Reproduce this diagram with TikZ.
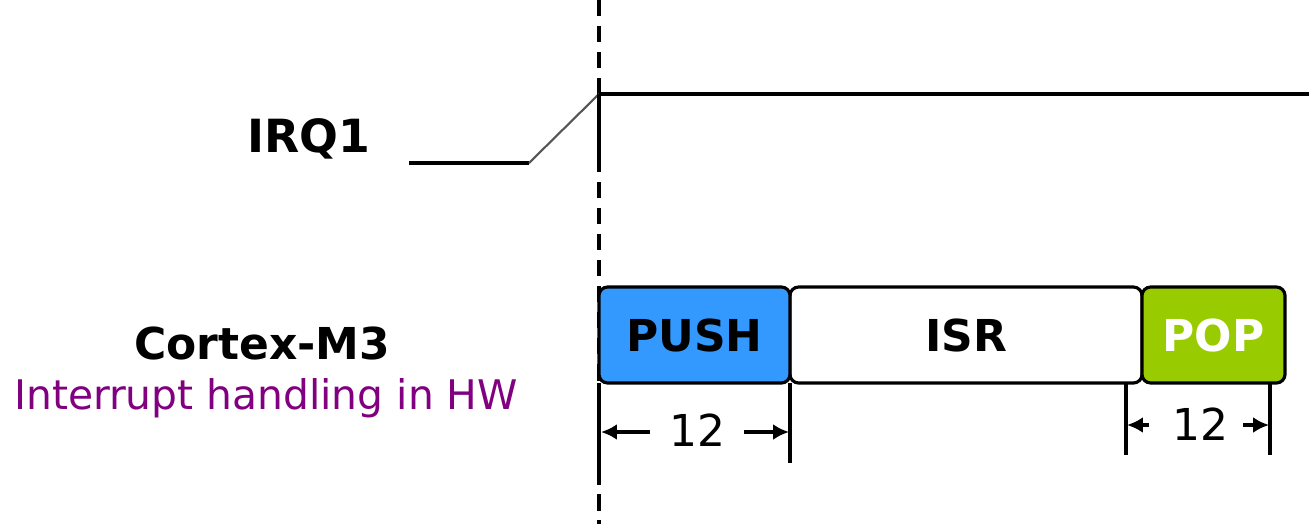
\documentclass[tikz,border=0pt]{standalone}
\usepackage{fontspec}
\setmainfont{DejaVu Sans}
\usetikzlibrary{arrows.meta}
\definecolor{pushblue}{HTML}{3399FF}
\definecolor{popgreen}{HTML}{99CC00}
\definecolor{hwpurple}{HTML}{800080}
\definecolor{edgegray}{HTML}{555555}

\tikzset{
	phase/.style={draw, line width=0.9pt, rounded corners=2.5pt, minimum height=0.96cm, inner sep=0pt, font=\fontsize{12.5}{15}\selectfont\bfseries},
	cycles/.style={-{Latex[length=4.5pt,width=4.5pt]}, line width=0.9pt},
	tick/.style={line width=0.9pt},
}

\begin{document}
\begin{tikzpicture}[x=0.01cm, y=-0.01cm]
	\useasboundingbox (0, 0) rectangle (1309, 524);
	% Labels on the left:
	\node[font=\fontsize{13}{15}\selectfont\bfseries](irq) at (309, 139){IRQ1};
	\node[font=\fontsize{12.5}{15}\selectfont\bfseries](core) at (262, 343){Cortex-M3};
	\node[font=\fontsize{11.6}{14}\selectfont, text=hwpurple](hw) at (266, 398){Interrupt handling in HW};
	% IRQ line and the moment it goes high:
	\coordinate (t0) at (599, 0);
	\coordinate (t1) at (599, 524);
	\draw[tick, dash pattern=on 4.6pt off 2.8pt] (t0) -- (t1);
	\coordinate (low) at (409, 163);
	\coordinate (rise) at (529, 163);
	\coordinate (high) at (599, 94);
	\coordinate (hend) at (1309, 94);
	\draw[tick] (low) -- (rise);
	\draw[line width=0.6pt, edgegray] (rise) -- (high);
	\draw[tick] (high) -- (hend);
	\draw[tick] (high) -- (599, 164);
	% Exception entry, handler and exit:
	\node[phase, minimum width=3.52cm](isr) at (966, 335){ISR};
	\node[phase, fill=pushblue, minimum width=1.91cm](push) at (694.5, 335){PUSH};
	\node[phase, fill=popgreen, text=white, minimum width=1.43cm](pop) at (1213.5, 335){POP};
	\draw[tick] (599, 383) -- (599, 468);
	\draw[tick] (790, 383) -- (790, 463);
	\draw[tick] (1126, 383) -- (1126, 455);
	\draw[tick] (1270, 383) -- (1270, 455);
	% Cycle counts:
	\node[font=\fontsize{12.5}{15}\selectfont](n1) at (697, 430){12};
	\node[font=\fontsize{12.5}{15}\selectfont](n2) at (1200, 424){12};
	\draw[cycles] (650, 432) -- (601, 432);
	\draw[cycles] (744, 432) -- (789, 432);
	\draw[cycles] (1149, 425) -- (1127, 425);
	\draw[cycles] (1243, 425) -- (1269, 425);
\end{tikzpicture}
\end{document}
